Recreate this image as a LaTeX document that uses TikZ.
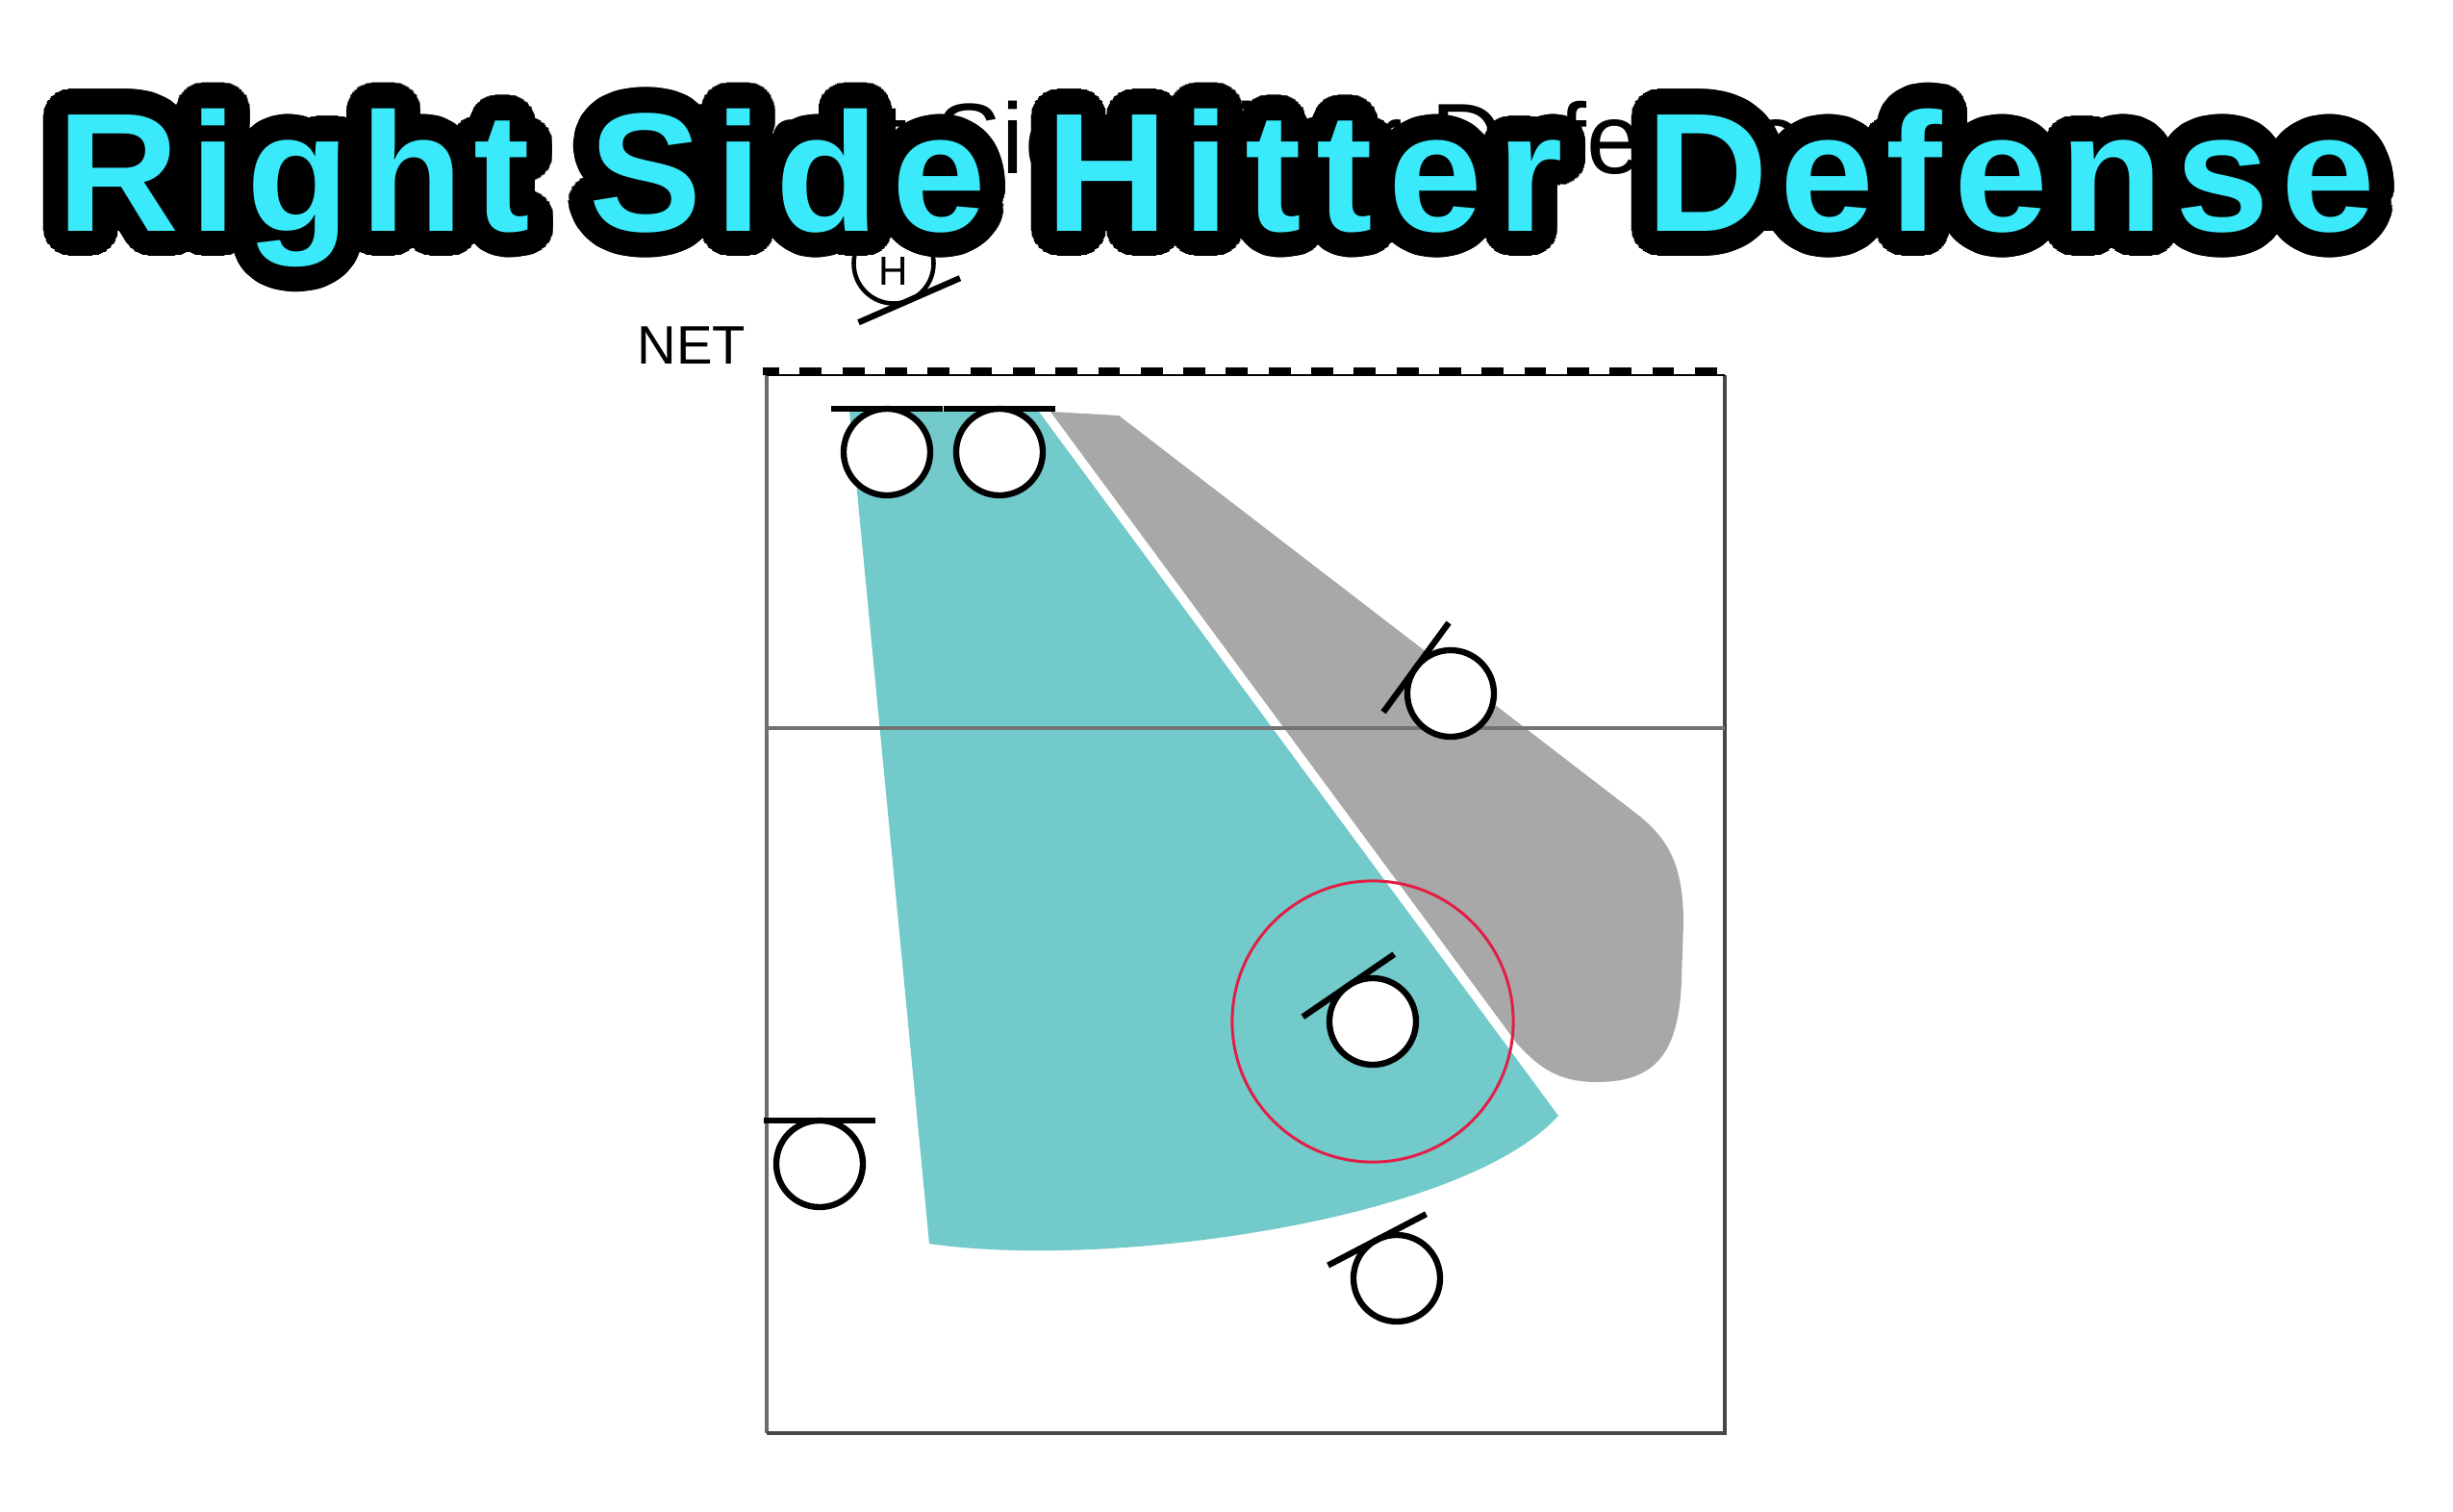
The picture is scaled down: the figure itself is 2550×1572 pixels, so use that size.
\documentclass[tikz,border=0pt]{standalone}
\usepackage{fontspec}
\setmainfont{Liberation Sans}
\newfontfamily\ttlfont[LetterSpace=9.0]{Liberation Sans}
\usetikzlibrary{calc}
\definecolor{teal1}{RGB}{114,202,202}
\definecolor{gray1}{RGB}{168,168,168}
\definecolor{cyan1}{RGB}{58,234,250}
\definecolor{red1}{RGB}{226,30,70}
\definecolor{court}{RGB}{70,70,70}
\tikzset{
  player/.style={circle, draw=black, fill=white, line width=1.8pt, minimum size=25.6pt, inner sep=0pt, outer sep=0pt},
  hplayer/.style={player, line width=1.3pt, minimum size=23.6pt, fill=none},
  pbar/.style={line width=1.8pt, line cap=butt},
  ttlout/.style={anchor=base west, inner sep=0pt, outer sep=0pt, text=black, font=\ttlfont\bfseries\fontsize{50}{60}\selectfont},
  ttlin/.style={ttlout, text=cyan1},
  courtline/.style={line width=1pt, draw=court},
}
\newcommand\plyr[5][]{%
  \node[player,#1] (#2) at (#3,#4) {};
  \draw[pbar] ($(#2.#5)+(#5+90:16.36pt)$) -- ($(#2.#5)+(#5-90:16.36pt)$);
}
% #1 name, #2 x, #3 letter space, #4 text
\newcommand\ttlback[4]{%
  \foreach \a in {0,5,...,355}{\node[ttlout] (#1o\a) at ($(#2,240)+(\a:7.4pt)$) {\addfontfeature{LetterSpace=#3}#4};}
  \foreach \a in {0,30,...,330}{\node[ttlout] (#1p\a) at ($(#2,240)+(\a:3.7pt)$) {\addfontfeature{LetterSpace=#3}#4};}
  \node[ttlout] (#1k) at (#2,240) {\addfontfeature{LetterSpace=#3}#4};
  \fill[black] ($(#1k.base west)+(6pt,0)$) rectangle ($(#1k.base east)+(-10pt,25pt)$);
}
\newcommand\ttlfront[4]{%
  \node[ttlin] (#1) at (#2,240) {\addfontfeature{LetterSpace=#3}#4};
}
\begin{document}
\begin{tikzpicture}[x=0.01cm,y=-0.01cm]
\fill[white] (0,0) rectangle (2550,1572);
\useasboundingbox (0,0) rectangle (2550,1572);

% zones
\fill[teal1] (883,428) -- (1080,428) -- (1620,1160) .. controls (1520,1270) and (1150,1320) .. (966,1293) -- cycle;
\fill[gray1] (1092,428) -- (1163,432) -- (1700,845) .. controls (1735,872) and (1750,900) .. (1750,960) -- (1748,1020) .. controls (1745,1090) and (1725,1125) .. (1660,1125) .. controls (1620,1125) and (1600,1110) .. (1577,1085) -- cycle;

% court
\coordinate (cTL) at (797,390);
\coordinate (cTR) at (1793,390);
\coordinate (cBL) at (797,1490);
\coordinate (cBR) at (1793,1490);
\coordinate (aL) at (797,757);
\coordinate (aR) at (1793,757);
\coordinate (nL) at (793,386);
\coordinate (nR) at (1797,386);
\draw[courtline, draw=gray!85!black] (cTL) -- (cBL);
\draw[courtline] (cBL) -- (cBR) -- (cTR);
\draw[line width=0.5pt, black] (cTL) -- (cTR);
\draw[line width=2.3pt, black, dash pattern=on 6.5pt off 6.1pt, dash phase=1.7pt] (nL) -- (nR);
\draw[line width=0.9pt, draw=gray!90!black] (aL) -- (aR);

\node[anchor=base, inner sep=0pt, font=\fontsize{16}{19}\selectfont] (net) at (719,378) {NET};

% zone circle
\node[circle, draw=red1, line width=0.85pt, minimum size=83.1pt, inner sep=0pt] (zone) at (1427,1062) {};

% players
\plyr{b1}{922}{470}{90}
\plyr{b2}{1039}{470}{90}
\plyr{lb}{852}{1210}{90}
\plyr{rb}{1508}{721}{143.8}
\plyr{dg}{1427}{1062}{124.4}
\plyr{bk}{1452}{1329}{117.6}
\plyr[hplayer]{hit}{929}{274}{293.6}
\node[inner sep=0pt, font=\fontsize{12}{14}\selectfont] (hlbl) at (929,282) {H};

% original title underneath
\node[anchor=base west, inner sep=0pt, font=\fontsize{29.6}{34}\selectfont] (sub) at (700,180) {Right Side Hitter Defense};

% overlay title
\ttlback{w1}{60}{6}{Right}
\ttlback{w2}{612}{8}{Side}
\ttlback{w3}{1087}{9}{Hitter}
\ttlback{w4}{1711}{7}{Defense}
\ttlfront{t1}{60}{6}{Right}
\ttlfront{t2}{612}{8}{Side}
\ttlfront{t3}{1087}{9}{Hitter}
\ttlfront{t4}{1711}{7}{Defense}
\end{tikzpicture}
\end{document}
